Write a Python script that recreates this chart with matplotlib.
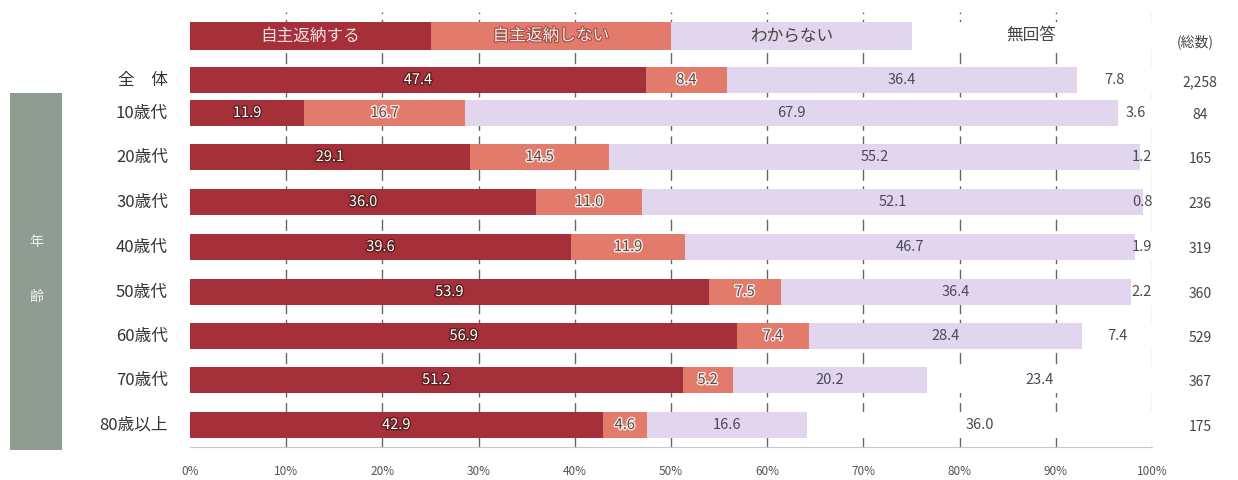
import matplotlib
matplotlib.use("Agg")
import matplotlib.pyplot as plt
import matplotlib.patheffects as pe
from matplotlib.patches import Rectangle

plt.rcParams['font.family'] = ['Noto Sans CJK JP', 'DejaVu Sans']

categories = ["全　体", "10歳代", "20歳代", "30歳代", "40歳代", "50歳代", "60歳代", "70歳代", "80歳以上"]
series_names = ["自主返納する", "自主返納しない", "わからない", "無回答"]
s_return = [47.4, 11.9, 29.1, 36.0, 39.6, 53.9, 56.9, 51.2, 42.9]
s_no_return = [8.4, 16.7, 14.5, 11.0, 11.9, 7.5, 7.4, 5.2, 4.6]
s_unknown = [36.4, 67.9, 55.2, 52.1, 46.7, 36.4, 28.4, 20.2, 16.6]
s_no_answer = [7.8, 3.6, 1.2, 0.8, 1.9, 2.2, 7.4, 23.4, 36.0]
totals = ["2,258", "84", "165", "236", "319", "360", "529", "367", "175"]
xticks = [0, 10, 20, 30, 40, 50, 60, 70, 80, 90, 100]
xtick_labels = ["0%", "10%", "20%", "30%", "40%", "50%", "60%", "70%", "80%", "90%", "100%"]

# layout (pixel rows)
row_y = [80, 113, 157, 202, 247, 292, 336, 380, 425]
legend_y = 36
bar_h = 26

colors = ["#A5303A", "#E27B6B", "#E2D6EF", "#FFFFFF"]
W, H = 1238, 480
fig = plt.figure(figsize=(W / 100, H / 100), dpi=100)
x0, x1 = 190, 1152
ytop, ybot = 12, 447
ax = fig.add_axes([x0 / W, 1 - ybot / H, (x1 - x0) / W, (ybot - ytop) / H])
ax.set_xlim(0, 100)
ax.set_ylim(ybot, ytop)

# gridlines
for g in xticks[1:-1]:
    ax.axvline(g, color="#666666", lw=1.0, ls=(0, (8, 4)), zorder=0)
ax.axvline(100, color="#C8C8C8", lw=1.0, zorder=0)

series = [s_return, s_no_return, s_unknown, s_no_answer]
stroke_dark = [pe.withStroke(linewidth=2, foreground="#5A2020")]
stroke_light = [pe.withStroke(linewidth=2, foreground="#F6E8E4")]
for i, y in enumerate(row_y):
    left = 0
    for k, s in enumerate(series):
        v = s[i]
        ax.barh(y, v, left=left, height=bar_h, color=colors[k], edgecolor="none", zorder=2)
        cx = left + v / 2
        if k == 3:
            cx = min(cx, 99.0)
        lbl = f"{v:.1f}"
        if k == 0:
            ax.text(cx, y, lbl, ha="center", va="center", fontsize=10.5, color="white",
                    path_effects=stroke_dark, zorder=3)
        elif k == 1:
            ax.text(cx, y, lbl, ha="center", va="center", fontsize=10.5, color="#5A4A48",
                    path_effects=stroke_light, zorder=3)
        else:
            ax.text(cx, y, lbl, ha="center", va="center", fontsize=10.5, color="#4A4A55", zorder=3)
        left += v
    ax.text(-2.3, y, categories[i], ha="right", va="center", fontsize=12, color="#333333")
    ax.text(105.0, y + 2, totals[i], ha="center", va="center", fontsize=10, color="#444444",
            clip_on=False)

# legend row as a bar
for k, name in enumerate(series_names):
    ax.barh(legend_y, 25, left=25 * k, height=28, color=colors[k], edgecolor="none", zorder=2)
    if k == 0:
        ax.text(25 * k + 12.5, legend_y, name, ha="center", va="center", fontsize=12,
                color="#EFE0E0", zorder=3)
    elif k == 1:
        ax.text(25 * k + 12.5, legend_y, name, ha="center", va="center", fontsize=12,
                color="#F6EAE8", path_effects=[pe.withStroke(linewidth=1.5, foreground="#9A4A44")], zorder=3)
    else:
        ax.text(25 * k + 12.5, legend_y, name, ha="center", va="center", fontsize=12,
                color="#444444", zorder=3)
ax.text(104.5, 42, "(総数)", ha="center", va="center", fontsize=10, color="#444444", clip_on=False)

ax.set_xticks(xticks)
ax.set_xticklabels(xtick_labels, fontsize=8.5, color="#555555")
ax.tick_params(axis="x", length=0, pad=13)
ax.set_yticks([])
for side in ["top", "left", "right"]:
    ax.spines[side].set_visible(False)
ax.spines["bottom"].set_color("#C8C8C8")

# side box "年齢"
bx = fig.add_axes([0, 0, 1, 1], zorder=-1)
bx.set_xlim(0, W)
bx.set_ylim(H, 0)
bx.axis("off")
bx.add_patch(Rectangle((10, 93), 52, 357, facecolor="#8E9C92", edgecolor="none"))
bx.text(36, 242, "年", ha="center", va="center", fontsize=10, color="#F2F2F2")
bx.text(36, 297, "齢", ha="center", va="center", fontsize=10, color="#F2F2F2")

fig.savefig("out.png", dpi=100)
